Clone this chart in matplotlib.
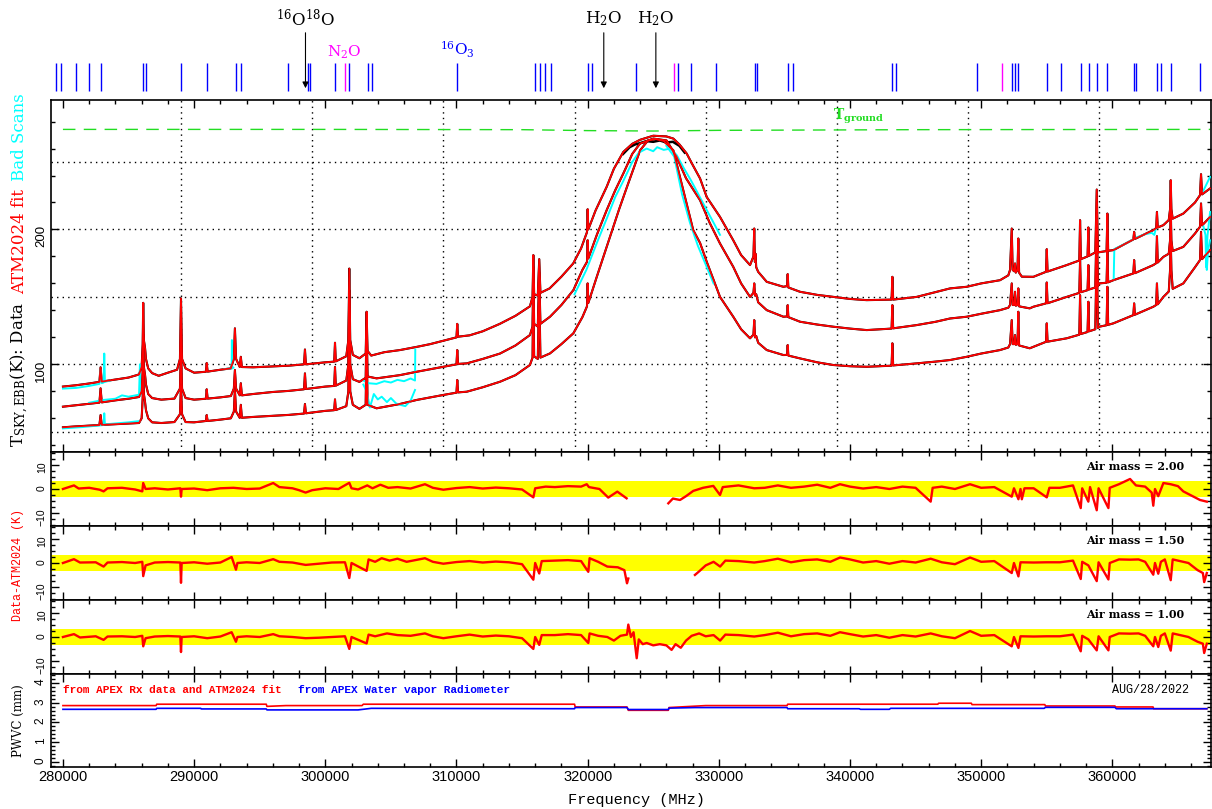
import numpy as np
import matplotlib
matplotlib.use("Agg")
import matplotlib.pyplot as plt
from matplotlib.ticker import MultipleLocator

plt.rcParams["font.family"] = "Liberation Sans"
plt.rcParams["mathtext.fontset"] = "dejavuserif"

# --- sky spectra (MHz, K): ATM2024 fit for each air mass ---
AM200 = [
    (280000, 83.5), (281000, 84.5), (282000, 85.8), (282780, 87.0), (282870, 97.8), (282960, 87.2),
    (284000, 88.7), (285000, 90.2), (285800, 92.5), (286000, 98), (286080, 115), (286120, 145.6),
    (286170, 118), (286260, 112), (286330, 104), (286500, 97), (286800, 93.5), (287300, 91.5),
    (288000, 93.8), (288700, 96), (288920, 104), (289000, 148.9), (289080, 104), (289350, 97),
    (290000, 93.8), (290900, 94.5), (290960, 101), (291030, 94.6), (292000, 96), (292800, 97),
    (293030, 104), (293110, 126.7), (293200, 104), (293480, 98), (293560, 105.6), (293640, 98),
    (294500, 97.8), (296000, 98.5), (297200, 99), (298380, 100), (298450, 111), (298520, 100),
    (300000, 101.5), (300680, 102), (300740, 116), (300800, 102.2), (301600, 106), (301760, 118),
    (301830, 171), (301900, 118), (302100, 107), (302600, 104.5), (303080, 108), (303150, 139),
    (303220, 110), (303500, 106.5), (304500, 109), (305700, 110.6), (307000, 113), (308000, 115),
    (309000, 117.5), (310000, 120), (310060, 130), (310120, 120.5), (311000, 121.5), (312000, 124.5),
    (313300, 130), (314500, 136), (315600, 143), (315800, 150), (315860, 181), (315920, 152),
    (316200, 151), (316310, 178), (316400, 153), (317100, 156.3), (318000, 165), (318900, 174.8),
    (319500, 186), (319950, 198), (320000, 215), (320050, 200), (320600, 214), (321450, 231.6),
    (322000, 245), (322720, 257.5), (323400, 263.5), (324000, 266.5), (325000, 269.5), (326000, 269),
    (326530, 267.4), (327000, 263), (327550, 256.3), (328000, 248), (328570, 237.8), (329080, 224),
    (330090, 209.3), (331100, 192), (331700, 181), (332380, 173.6), (332640, 180), (332700, 200.7),
    (332750, 176), (332800, 182), (332850, 172), (333000, 168.6), (333650, 161.2), (334920, 157.5),
    (335200, 158), (335250, 166.9), (335300, 157), (336190, 153.8), (337500, 151.5), (338730, 150),
    (340000, 148.5), (341270, 147.6), (343170, 148), (343230, 164.9), (343290, 148), (345080, 150),
    (346500, 153.5), (347630, 156.3), (348900, 157.5), (350000, 160), (351440, 162.4), (352070, 166),
    (352200, 170), (352330, 200.7), (352400, 170), (352520, 169), (352580, 174.8), (352640, 168),
    (352770, 170), (352830, 193.3), (352890, 168), (353100, 165), (353980, 164.9), (354940, 168.6),
    (355000, 185.4), (355060, 168.8), (356520, 173.6), (357480, 177), (357540, 206.9), (357600, 178),
    (358110, 180), (358170, 201.5), (358230, 180.5), (358700, 183), (358810, 229.6), (358900, 183),
    (359560, 184), (359620, 211.8), (359680, 184.2), (360080, 184.7), (361600, 192.6), (361660, 198.2),
    (361720, 193), (363120, 199.5), (363340, 201), (363400, 213), (363460, 201.5), (363890, 203.2),
    (364300, 207), (364400, 215), (364450, 236.5), (364500, 215), (364600, 208), (365410, 211.8),
    (366300, 220), (366680, 225.4), (366760, 241), (366840, 226), (367450, 230.4),
]
AM150 = [
    (280000, 68.6), (281000, 69.7), (282000, 70.8), (282780, 71.6), (282870, 82.2), (282960, 71.8),
    (284000, 73.3), (285000, 74.5), (285800, 75.8), (286000, 80), (286080, 95), (286120, 122),
    (286170, 98), (286260, 92), (286330, 85), (286500, 78), (286800, 75), (287500, 73.8),
    (288500, 74.6), (288920, 82), (289000, 113), (289080, 82), (289350, 75), (290000, 73.8),
    (290900, 74.5), (290960, 81.5), (291030, 74.6), (292000, 75.5), (292800, 76.5), (293030, 82),
    (293110, 95.8), (293200, 82), (293480, 77), (293560, 86), (293640, 77), (294500, 78),
    (296000, 79.5), (297200, 80.3), (298380, 81.5), (298450, 93.3), (298520, 81.7), (300000, 83.5),
    (300680, 84), (300740, 98), (300800, 84.2), (301600, 88), (301760, 100), (301830, 155),
    (301900, 100), (302100, 89), (302600, 87), (303080, 90), (303150, 133), (303220, 91),
    (303910, 89.6), (305690, 92), (306970, 94.5), (309000, 98.2), (310000, 100), (310060, 110.6),
    (310120, 100.3), (310780, 100.7), (312000, 104), (313320, 108), (314500, 114), (315600, 121.7),
    (315800, 128), (315860, 172), (315920, 130), (316200, 128), (316310, 168), (316400, 130),
    (317130, 135.3), (318000, 144), (318910, 155), (319600, 170), (319950, 176), (320000, 192),
    (320050, 178.5), (320700, 196), (321450, 214.3), (322100, 229), (322720, 241.5), (323400, 256),
    (323990, 263.7), (325010, 267.4), (326020, 266), (326780, 253.8), (327500, 238), (328570, 221.7),
    (329300, 205), (330090, 189.6), (331100, 172.3), (331700, 160), (332380, 150), (332640, 153),
    (332700, 160), (332760, 151), (332850, 152), (333000, 146), (333650, 140.2), (334920, 135.3),
    (335200, 135.5), (335250, 143.9), (335300, 135), (336190, 131.6), (337500, 129.5), (338730, 127.9),
    (340000, 126.5), (341270, 125.4), (343170, 126.5), (343230, 143.9), (343290, 126.7), (345080, 129.1),
    (346500, 131.5), (347630, 134), (348900, 135.3), (350000, 137.5), (351440, 140.2), (352070, 142),
    (352200, 144), (352330, 160), (352400, 144), (352520, 144), (352580, 153.8), (352640, 143.5),
    (352770, 144), (352830, 156.3), (352890, 143), (353700, 141.5), (353980, 142.7), (354940, 145.2),
    (355000, 160.7), (355060, 145.3), (356520, 150), (357480, 153), (357540, 177.3), (357600, 153.5),
    (358110, 155), (358170, 173.6), (358230, 155.5), (358700, 157), (358810, 212), (358900, 158),
    (359000, 160), (359560, 160.5), (359620, 184.7), (359680, 160.8), (360080, 162.4), (361600, 167.4),
    (361660, 177.3), (361720, 167.6), (363120, 173.6), (363340, 175), (363400, 195), (363460, 175.5),
    (363890, 179.7), (364300, 182), (364400, 192), (364450, 216.7), (364500, 192), (364600, 184),
    (365410, 187.1), (366300, 197), (366680, 202), (366760, 219.3), (366840, 203), (367450, 209.3),
]
AM100 = [
    (280000, 53.3), (281000, 54), (282000, 54.6), (282780, 55), (282870, 62.4), (282960, 55.1),
    (284000, 55.6), (285000, 56), (285800, 56.5), (286000, 60), (286080, 75), (286120, 100),
    (286170, 78), (286260, 72), (286330, 66), (286500, 60), (286800, 57), (287500, 56.5),
    (288500, 57.2), (288920, 63), (289000, 84), (289080, 63), (289350, 57.2), (290000, 57),
    (290900, 58), (290960, 62.4), (291030, 58), (292000, 59), (292800, 60), (293030, 65),
    (293110, 81), (293200, 65), (293480, 60.3), (293560, 70), (293640, 60.4), (294500, 61),
    (296000, 61.8), (297200, 62.5), (298380, 63.5), (298450, 70.6), (298520, 63.7), (300000, 65.5),
    (300680, 66), (300740, 74), (300800, 66.1), (301600, 69), (301760, 80), (301830, 140),
    (301900, 80), (302100, 70), (302600, 67), (303080, 70), (303150, 125), (303220, 70),
    (303910, 67.4), (305690, 70.6), (306970, 73.6), (309000, 77.3), (310000, 79), (310060, 88.4),
    (310120, 79.2), (310780, 79.7), (312000, 83), (313320, 87.1), (314500, 92), (315600, 99.5),
    (315800, 105), (315860, 160), (315920, 106), (316200, 104), (316310, 158), (316400, 105),
    (317130, 108.1), (318000, 115), (318910, 123), (319600, 135), (319950, 143), (320000, 160),
    (320050, 145.5), (320700, 165), (321450, 187.1), (322400, 215), (323000, 231.6), (324000, 258.7),
    (324600, 266), (325200, 267), (325800, 265.6), (326530, 258.7), (327290, 229), (328050, 199.5),
    (328570, 190), (329080, 176), (330090, 150), (331100, 135.3), (331700, 126), (332380, 119.3),
    (332640, 122), (332700, 132.8), (332760, 120), (332850, 121), (333000, 116), (333650, 110.6),
    (334920, 106.9), (335200, 107), (335250, 114.3), (335300, 106.5), (336190, 104.4), (337500, 101.5),
    (338730, 99.5), (340000, 98.6), (341270, 98.2), (343170, 99), (343230, 115.6), (343290, 99.2),
    (345080, 100.7), (346500, 102), (347630, 103.2), (348900, 105.6), (350000, 108), (351440, 110.6),
    (352070, 112.5), (352200, 115), (352330, 132.8), (352400, 115), (352520, 115), (352580, 121.7),
    (352640, 114.5), (352770, 115), (352830, 139), (352890, 114), (353700, 111.9), (353980, 113),
    (354940, 116.7), (355000, 130.4), (355060, 116.8), (356520, 119.3), (357480, 122), (357540, 151.3),
    (357600, 122.5), (358110, 124), (358170, 146.4), (358230, 124.5), (358700, 126), (358810, 190),
    (358900, 127), (359000, 127.9), (359560, 129), (359620, 157.5), (359680, 129.3), (360080, 130.4),
    (361600, 136.5), (361660, 145.2), (361720, 136.8), (363120, 142.7), (363340, 144), (363400, 160),
    (363460, 144.5), (363890, 150), (364300, 154), (364400, 170), (364450, 194.5), (364500, 170),
    (364600, 156), (365410, 160), (366300, 172), (366680, 177.3), (366760, 198.2), (366840, 178),
    (367450, 184.7),
]

# measured data departing from the fit at the top of the 325 GHz line
DATA_PEAK = [(322700, 256), (323200, 261), (323600, 263), (324000, 264), (324500, 265.5),
             (325000, 265), (325500, 266), (326000, 264.5), (326500, 265), (327000, 262), (327400, 257)]

# bad scans (cyan), one list per stretch
BAD_SCANS = [
    [(280000, 82), (281000, 82.5), (282000, 84), (282780, 85.5), (282870, 96), (282960, 86),
     (283100, 86.5), (283150, 108), (283200, 87), (283600, 88)],
    [(282000, 71.5), (283000, 73.5), (284000, 74.5), (284500, 77), (285000, 76), (285800, 77.5),
     (285870, 100), (285900, 77)],
    [(280000, 52.5), (281500, 53.5), (283100, 55), (283150, 63.7), (283200, 55.5), (285000, 57), (285870, 58)],
    [(292300, 96.5), (292860, 97), (292880, 118), (292900, 97), (293000, 97.5)],
    [(302900, 88), (303300, 86), (303900, 85.5), (304500, 87.5), (305000, 86.5), (305500, 88.5),
     (306000, 87.5), (306500, 89.5), (306840, 88), (306860, 111)],
    [(302900, 85), (303150, 80), (303400, 68), (303700, 78), (304000, 74), (304300, 76), (304700, 72),
     (305000, 75), (305400, 71), (305700, 70), (306100, 69), (306500, 73), (306840, 81)],
    [(319000, 152), (319900, 170), (320700, 190), (321450, 208), (322100, 224), (322720, 236), (323400, 250)],
    [(323400, 250), (323900, 257), (324500, 260), (325000, 258), (325300, 261), (325800, 259),
     (326300, 260), (326800, 255), (327300, 246), (327900, 236), (328500, 225), (329100, 214),
     (329600, 205), (330090, 196)],
    [(326000, 262), (326600, 254), (327200, 226), (327800, 205), (328400, 188), (329000, 174), (329600, 160)],
    [(360100, 162.5), (360150, 185.5), (361000, 189.5), (361800, 194), (362500, 196.5), (363000, 197.5),
     (363200, 196), (363300, 200)],
    [(366900, 228), (367100, 232), (367450, 239)],
    [(366900, 204), (367100, 196), (367150, 172), (367250, 195), (367450, 213)],
    [(367150, 180), (367200, 170), (367300, 185), (367450, 192)],
]

T_GROUND = [(280000, 274.2), (300000, 274.2), (315000, 274), (320000, 273.3), (325000, 273),
            (330000, 273.5), (345000, 274), (367450, 274.2)]

# --- Data - ATM2024 residuals (K) ---
RES200 = [
    (280000, 0), (280840, 1.5), (281200, 0.2), (282000, 0.5), (282800, -0.3), (283100, -1), (283400, 0.3),
    (284500, 0.5), (285500, -0.2), (286050, -1), (286120, 2.5), (286300, 0), (287000, 0.3), (288000, -0.2),
    (288950, 0.3), (289000, -3.2), (289050, 0), (290000, 0.2), (291000, -0.5), (292000, 0.3), (293000, 0.5),
    (294000, 0), (295000, 0.2), (296030, 2.5), (296500, 0.8), (297500, 0.3), (298000, -0.5), (298500, -1.5),
    (299000, -0.5), (300000, 0.3), (301000, 0), (301830, 2.6), (302000, 0.3), (302500, -0.2), (303200, 1.5),
    (303600, 0.3), (304200, 1.8), (304800, 0.5), (305500, 0.8), (306500, 0.2), (307600, 2), (308200, 0.5),
    (309000, -0.3), (310000, 0.4), (311000, 0.8), (312000, 0.2), (313000, 0.6), (314000, 0.3), (315000, -0.2),
    (315860, -3.5), (316000, 0.3), (316800, 1), (317500, 0.8), (318500, 1.2), (319500, 1), (319930, 2),
    (320100, 0.8), (320900, 0), (321570, -3.6), (322260, -1.1), (322970, -3.9),
    (np.nan, np.nan),
    (326150, -6), (326500, -4), (327040, -4.6), (327500, -3), (328050, -0.8), (328800, 0.5), (329580, 1.3),
    (330090, -2.5), (330300, 0.8), (331500, 1.5), (332700, 0.3), (333500, 0.5), (334500, 1.5), (335500, 0.5),
    (336500, 1), (337500, 1.8), (338500, 0.5), (339240, 2), (340000, 1), (341000, 0.2), (342000, 0.8),
    (343000, 0), (344000, 1), (345000, 0.5), (346150, -5.3), (346300, 0.5), (347000, 1), (348000, 0),
    (349150, 2), (350000, 0.5), (351000, 0.8), (352330, -3.2), (352500, 0.3), (352840, -4.3), (353000, 0),
    (353100, -4.3), (353300, 0.3), (354000, 0.3), (355000, -3.5), (355200, 0.5), (356000, 0.5), (357000, 1.5),
    (357590, -8), (357700, 0.3), (358170, -5.3), (358300, 0.8), (358810, -8.9), (358950, 0.3), (359700, -8),
    (359800, 0.5), (360500, 2), (361350, 4.2), (361800, 1.5), (362500, 1), (363000, -1.5), (363120, -7),
    (363250, 0), (363500, -3), (363890, 2.5), (364450, 2), (365000, 1.2), (365410, -1), (366680, -4.6),
    (367200, -5.3),
]
RES150 = [
    (280000, 0), (280840, 1.6), (281300, 0.2), (282500, 0.3), (283100, -1.5), (283400, 0.2), (284500, 0.4),
    (285500, 0), (286050, 0.5), (286120, -5.5), (286300, -1), (287000, 0.2), (288000, 0.4), (288950, 0.2),
    (289000, -8.3), (289050, 0), (290000, 0.3), (291000, -0.3), (292000, 0.2), (292860, 2.5), (293000, 0.3),
    (293190, -2.8), (293300, 0), (294000, 0.3), (295000, 0), (296030, 1.6), (296500, 0.5), (297500, 0.2),
    (298500, -0.8), (299500, -0.3), (300500, 0.2), (301500, 0.3), (301830, -6.3), (302000, 0), (303150, -3.3),
    (303300, 1.5), (303800, 0.5), (304300, 2), (304900, 1), (305500, 1.8), (306200, 0.5), (307600, 2),
    (308200, 0.5), (309000, -0.3), (310000, 0.4), (311000, 0.8), (312000, 0.2), (313000, 0.6), (314000, 0.3),
    (315000, -0.5), (315860, -7), (316000, 0), (316310, -4.4), (316500, 0.8), (317500, 1), (318500, 1.2),
    (319500, 0.8), (320050, -3.7), (320150, 2), (320800, 0.5), (321500, -1.5), (322300, -1.8), (322800, -3),
    (323000, -8.5), (323100, -6.5),
    (np.nan, np.nan),
    (328180, -5), (328500, -3.5), (329000, -1), (329600, 0.5), (330100, -1.5), (330500, 1), (331500, 0.8),
    (332700, 0.2), (333500, 0.8), (334500, 1.8), (335500, 0.3), (336500, 1.2), (337500, 1.5), (338500, 0.5),
    (339240, 2.3), (340000, 1.5), (341000, 0.2), (342000, 0.8), (343000, -0.3), (344000, 0.8), (345000, 0.2),
    (346150, 1.8), (347000, 0.3), (348000, -0.5), (349150, 2.3), (350000, 0.5), (351000, 0.8), (352330, -4.2),
    (352500, 0), (352840, -5.6), (353000, 0.3), (354000, 0.2), (355000, 0.3), (356000, 0.3), (357000, 1),
    (357590, -6.7), (357700, 0.5), (358170, -1), (358810, -7.6), (358950, 0.3), (359700, -6.9), (359800, 0),
    (360500, 1.5), (361350, 1.4), (362000, 1.5), (362500, 0.5), (363120, -4.9), (363250, 0), (363500, -4.5),
    (363700, 0.5), (364000, 1.5), (364450, -7.2), (364600, 1.5), (365000, 1), (365800, 0), (366500, -3),
    (366900, -4.2), (367000, -8), (367200, -4.2),
]
RES100 = [
    (280000, 0), (280840, 1.2), (281300, -0.2), (282500, 0.3), (283100, -1.2), (283400, 0.2), (284500, 0.3),
    (285500, 0), (286050, 0.5), (286120, -3.9), (286300, -0.5), (287000, 0.2), (288000, 0.4), (288950, 0.2),
    (289000, -6.3), (289050, 0), (290000, 0.3), (291000, -0.5), (292000, 0.2), (292860, 2), (293000, 0.3),
    (293190, -2), (293300, 0), (294000, 0.3), (295000, 0), (296030, 1.2), (296500, 0.3), (297500, 0),
    (298500, -0.5), (299500, -0.3), (300500, 0), (301500, 0.3), (301830, -5), (302000, 0), (303150, -2.7),
    (303300, 1), (303800, 0.3), (304700, 1.5), (305500, 0.8), (306500, 0.5), (307600, 1.5), (308200, 0.3),
    (309000, -0.5), (310000, 0.3), (311000, 1), (312000, 0.2), (313000, 0.6), (314000, 0.3), (315000, -0.5),
    (315860, -5), (316000, 0), (316310, -3.3), (316500, 0.8), (317500, 0.8), (318500, 1.2), (319500, 0.8),
    (320050, -2.5), (320150, 1.5), (320800, 0.5), (321500, 0), (322000, -1.5), (322500, 0.5), (323000, 1),
    (323100, 5.2), (323300, 0), (323500, 2), (323740, -8.9), (323900, -1), (324200, -3), (324500, -2.5),
    (325000, -3.5), (325500, -3), (326000, -3.5), (326400, -5.4), (326700, -3), (327100, -4.5), (327500, -1.5),
    (327930, 0.5), (328500, 1.5), (329000, 0.3), (329600, 0.8), (330100, -1.5), (330500, 1), (331500, 0.8),
    (332700, 0.2), (333500, 0.8), (334500, 1.8), (335500, 0.3), (336500, 1.2), (337500, 1.5), (338500, 0.5),
    (339240, 2), (340000, 1.2), (341000, 0.2), (342000, 0.8), (343000, -0.3), (344000, 0.8), (345000, 0.2),
    (346150, 1.5), (347000, 0.3), (348000, -0.5), (349150, 2.5), (350000, 0.5), (351000, 0.8), (352330, -3.9),
    (352500, 0), (352840, -4.6), (353000, 0.3), (354000, 0.2), (355000, 0.3), (356000, 0.3), (357000, 1),
    (357590, -6), (357700, 0.5), (358170, -1), (358810, -5.6), (358950, 0.3), (359700, -5.6), (359800, 0),
    (360500, 1.5), (361350, 1.4), (362000, 1.5), (362500, 0.5), (363120, -3.9), (363250, 0), (363500, -4.2),
    (363700, 0.5), (364000, 1.5), (364450, -5.7), (364600, 1.5), (365000, 1), (365800, 0), (366500, -2),
    (366900, -2.8), (367000, -6.7), (367200, -2.8),
]
AIR_MASSES = ["2.00", "1.50", "1.00"]
BAND = 3.3

# --- PWVC (mm) ---
PWV_FIT = [
    (280000, 2.86), (287100, 2.86), (287150, 2.93), (295500, 2.93), (295550, 2.82), (297000, 2.86),
    (302800, 2.86), (302900, 2.93), (319000, 2.93), (319050, 2.79), (323000, 2.79), (323100, 2.62),
    (326150, 2.62), (326200, 2.76), (329000, 2.86), (335200, 2.86), (335250, 2.93), (346700, 2.93),
    (346750, 2.98), (349250, 2.98), (349300, 2.91), (354850, 2.91), (354900, 2.84), (360200, 2.84),
    (360250, 2.79), (363100, 2.79), (363150, 2.70), (367200, 2.70),
]
PWV_WVR = [
    (280000, 2.67), (287100, 2.67), (287150, 2.72), (290500, 2.72), (290550, 2.69), (295500, 2.69),
    (295550, 2.64), (302500, 2.64), (303500, 2.72), (319000, 2.70), (319050, 2.76), (323000, 2.76),
    (323100, 2.66), (326150, 2.66), (326200, 2.73), (328200, 2.76), (335200, 2.76), (335250, 2.70),
    (340700, 2.70), (340800, 2.67), (343000, 2.67), (343100, 2.72), (354800, 2.72), (354900, 2.77),
    (360200, 2.77), (360300, 2.70), (367200, 2.70),
]

# --- line catalogue markers above the plot ---
LINES_BLUE = [279504, 279870, 280983, 281982, 282882, 286107, 286320, 288973, 290994, 293190, 293556,
              297169, 298648, 298831, 300760, 301843, 303230, 303535, 310077, 315955, 316344, 316740,
              317190, 320026, 320323, 323709, 326896, 327872, 329808, 332759, 332873, 335282, 335640,
              343196, 343470, 349714, 352337, 352543, 352840, 355013, 356111, 357628, 358200, 358848,
              359626, 361646, 361768, 363438, 363674, 364444, 366708]
LINES_MAGENTA = [301515, 326567, 351620]
ARROWS = [(298490, r"$^{16}$O$^{18}$O"), (321230, r"H$_2$O"), (325200, r"H$_2$O")]

XMIN, XMAX = 279090, 367520
W, H = 1212, 809
RED, CYAN, BLUE, MAG = "#ff0000", "#00ffff", "#0000ff", "#ff00ff"
GREEN = "#22dd22"
DOT = (0, (1, 3))


def box(top, bottom):
    return [51 / W, 1 - bottom / H, (1211 - 51) / W, (bottom - top) / H]


def style(ax, ysize):
    ax.set_xlim(XMIN, XMAX)
    ax.xaxis.set_major_locator(MultipleLocator(10000))
    ax.xaxis.set_minor_locator(MultipleLocator(2000))
    ax.tick_params(which="both", direction="in", top=True, right=True, labelbottom=False, width=1)
    ax.tick_params(which="major", length=6)
    ax.tick_params(which="minor", length=3)
    ax.tick_params(axis="y", labelrotation=90, labelsize=ysize, pad=3)
    for s in ax.spines.values():
        s.set_linewidth(1.2)


def xy(pairs):
    a = np.array(pairs, dtype=float)
    return a[:, 0], a[:, 1]


fig = plt.figure(figsize=(W / 100, H / 100), dpi=100)

# line markers strip (y in pixels from the top of the figure)
ax_l = fig.add_axes(box(0, 100))
ax_l.set_xlim(XMIN, XMAX)
ax_l.set_ylim(100, 0)
ax_l.axis("off")
ax_l.vlines(LINES_BLUE, 63, 91, color=BLUE, lw=1)
ax_l.vlines(LINES_MAGENTA, 63, 91, color=MAG, lw=1)
for f, lab in ARROWS:
    ax_l.annotate("", xy=(f, 91), xytext=(f, 30),
                  arrowprops=dict(arrowstyle="-|>", color="black", lw=0.8, mutation_scale=9))
    ax_l.text(f, 19, lab, ha="center", va="center", fontsize=12, family="DejaVu Serif")
ax_l.text(301420, 52, r"N$_2$O", color=MAG, ha="center", va="center", fontsize=11, family="DejaVu Serif")
ax_l.text(310100, 50, r"$^{16}$O$_3$", color=BLUE, ha="center", va="center", fontsize=11,
          family="DejaVu Serif")

# main spectra
ax = fig.add_axes(box(100, 452))
style(ax, 9.5)
ax.set_ylim(35, 296)
ax.yaxis.set_major_locator(MultipleLocator(100))
ax.yaxis.set_minor_locator(MultipleLocator(20))
for t in [50, 100, 150, 200, 250]:
    ax.axhline(t, color="black", lw=1, ls=DOT, zorder=1)
for f in range(289000, 367000, 10000):
    ax.axvline(f, color="black", lw=1, ls=DOT, zorder=1)
fg, tg = xy(T_GROUND)
ax.plot(fg, tg, color=GREEN, lw=1, dashes=(9, 6), zorder=2)
ax.text(338700, 277, r"$\mathbf{T_{ground}}$", color=GREEN, fontsize=10, va="bottom", ha="left")
for curve in (AM200, AM150, AM100):
    f, t = xy(curve)
    ax.plot(f, t, color="black", lw=1.5, zorder=3)
fp, tp = xy(DATA_PEAK)
ax.plot(fp, tp, color="black", lw=1.8, zorder=3)
for seg in BAD_SCANS:
    f, t = xy(seg)
    ax.plot(f, t, color=CYAN, lw=1.4, zorder=4)
for curve in (AM200, AM150, AM100):
    f, t = xy(curve)
    ax.plot(f, t, color=RED, lw=1.3, zorder=5)

# residual panels
for i, (res, am) in enumerate(zip((RES200, RES150, RES100), AIR_MASSES)):
    top = 452 + 74 * i
    axr = fig.add_axes(box(top, top + 74))
    style(axr, 7.5)
    axr.set_ylim(-15.5, 15.5)
    axr.yaxis.set_major_locator(MultipleLocator(10))
    axr.yaxis.set_minor_locator(MultipleLocator(2.5))
    axr.axhspan(-BAND, BAND, color="#ffff00", lw=0, zorder=1)
    f, r = xy(res)
    axr.plot(f, r, color=RED, lw=1.7, zorder=3)
    axr.text(0.977, 0.80, f"Air mass = {am}", transform=axr.transAxes, ha="right", va="center",
             fontsize=8, fontweight="bold", family="DejaVu Serif")

# PWVC panel
axp = fig.add_axes(box(674, 767))
style(axp, 8.5)
axp.set_ylim(-0.27, 4.47)
axp.yaxis.set_major_locator(MultipleLocator(1))
axp.yaxis.set_minor_locator(MultipleLocator(0.2))
f, p = xy(PWV_FIT)
axp.plot(f, p, color=RED, lw=1.2)
f, p = xy(PWV_WVR)
axp.plot(f, p, color=BLUE, lw=1.2)
axp.tick_params(axis="x", labelbottom=True, labelsize=10.5, pad=2)
axp.text(0.0103, 0.83, "from APEX Rx data and ATM2024 fit", color=RED, transform=axp.transAxes,
         ha="left", va="center", fontsize=8, fontweight="bold", family="Liberation Mono")
axp.text(0.213, 0.83, "from APEX Water vapor Radiometer", color=BLUE, transform=axp.transAxes,
         ha="left", va="center", fontsize=8, fontweight="bold", family="Liberation Mono")
axp.text(0.981, 0.83, "AUG/28/2022", transform=axp.transAxes, ha="right", va="center",
         fontsize=8.5, family="Liberation Mono")

# axis titles
fig.text(636 / W, 1 - 800 / H, "Frequency (MHz)", ha="center", va="center", fontsize=11,
         family="Liberation Mono")
fig.text(18 / W, 1 - 565 / H, "Data-ATM2024 (K)", color=RED, rotation=90, ha="center", va="center",
         fontsize=8.5, family="Liberation Mono")
fig.text(18 / W, 1 - 721 / H, "PWVC (mm)", rotation=90, ha="center", va="center", fontsize=8.5,
         family="DejaVu Serif")

# multi-coloured y label of the spectra panel, stacked bottom to top
renderer = fig.canvas.get_renderer()
y = 1 - 447 / H
gap = 8 / H
for txt, col in [(r"T$_{\rm SKY,EBB}$(K): Data", "black"), ("ATM2024 fit", RED), ("Bad Scans", CYAN)]:
    t = fig.text(24 / W, y, txt, color=col, rotation=90, rotation_mode="anchor", ha="left",
                 va="baseline", fontsize=12, family="DejaVu Serif")
    bb = t.get_window_extent(renderer)
    y = bb.y1 / fig.bbox.height + gap

fig.savefig("out.png", dpi=100)
